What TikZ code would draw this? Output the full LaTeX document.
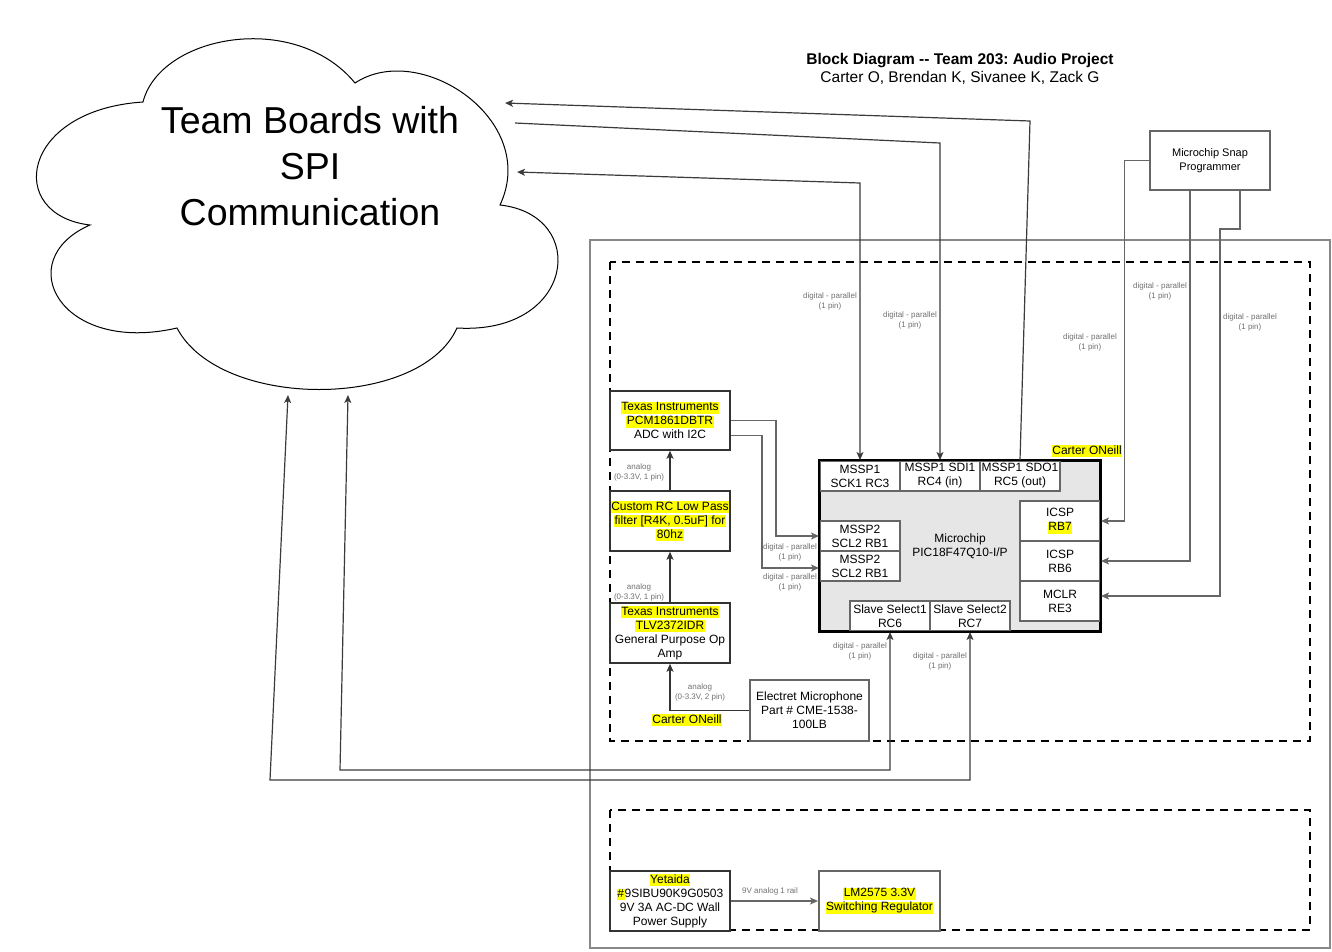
\documentclass[tikz,border=0pt]{standalone}
\usepackage{fontspec}
\setmainfont{Liberation Sans}
\usetikzlibrary{arrows.meta,calc}
\frenchspacing
\definecolor{dk}{HTML}{333333}
\definecolor{gr}{HTML}{666666}
\definecolor{lb}{HTML}{707070}
\definecolor{ct}{HTML}{888888}
\definecolor{chipfill}{HTML}{E6E6E6}
\definecolor{hly}{HTML}{FFFF00}
\newcommand{\fsz}[2]{\fontsize{#1}{#2}\selectfont}
\newcommand{\hlt}[1]{{\setlength{\fboxsep}{0.6pt}\colorbox{hly}{\rule[-2.2pt]{0pt}{9.4pt}#1}}}
\tikzset{
  blk/.style={draw=dk, line width=1.5pt, fill=white, align=center, inner sep=0pt, font=\fsz{12}{14}},
  gbox/.style={blk, draw=gr, line width=2pt},
  pin/.style={gbox, minimum width=80pt, minimum height=30pt},
  lbl/.style={align=center, font=\fsz{8}{10}, text=lb, inner sep=0pt},
  conn/.style={draw=gr, line width=1.5pt},
  dconn/.style={draw=dk, line width=1.5pt},
  cconn/.style={draw=dk!85!gr, line width=1.2pt},
  arr/.style={-{Stealth[length=8pt,width=7pt,inset=2pt]}},
  arr2/.style={{Stealth[length=8pt,width=7pt,inset=2pt]}-{Stealth[length=8pt,width=7pt,inset=2pt]}},
  dsh/.style={draw=black, line width=2pt, dash pattern=on 8pt off 6pt},
  cont/.style={draw=ct, line width=1.3pt},
  hlnote/.style={font=\fsz{12}{14}, inner sep=0pt}
}
\begin{document}
\begin{tikzpicture}[x=1pt,y=-1pt]
\useasboundingbox (0,0) rectangle (1332,951);
% containers
\draw[cont] (590,240) rectangle (1330,948);
\draw[dsh] (610,262) rectangle (1310,741);
\draw[dsh] (610,810) rectangle (1310,930);
% cloud
\draw[black, line width=1pt, fill=white] (143,102) .. controls (160,35) and (295,10) .. (355,83)
  .. controls (420,40) and (540,120) .. (500,205)
  .. controls (590,215) and (575,335) .. (457,328)
  .. controls (420,410) and (220,410) .. (177,328)
  .. controls (60,355) and (10,260) .. (90,225)
  .. controls (5,215) and (20,110) .. (143,102) -- cycle;
\node[font=\fsz{37.5}{46}, align=center, inner sep=0pt] (cloudtxt) at (310,166) {Team Boards with\\SPI\\Communication};
% title
\node[font=\bfseries\fsz{15.5}{18}, inner sep=0pt] (t1) at (960,61) {Block Diagram -{}- Team 203: Audio Project};
\node[font=\fsz{15.5}{18}, inner sep=0pt] (t2) at (960,78) {Carter O, Brendan K, Sivanee K, Zack G};
% left column
\node[blk, minimum width=120pt, minimum height=59pt] (adc) at (670,420.5) {\hlt{Texas Instruments}\\\hlt{PCM1861DBTR}\\ADC with I2C};
\node[blk, minimum width=120pt, minimum height=60pt] (filt) at (670,521) {\hlt{Custom RC Low Pass}\\\hlt{filter [R4K, 0.5uF] for}\\\hlt{80hz}};
\node[blk, minimum width=120pt, minimum height=60pt] (opamp) at (670,633) {\hlt{Texas Instruments}\\\hlt{TLV2372IDR}\\General Purpose Op\\Amp};
\node[gbox, minimum width=119pt, minimum height=61pt] (mic) at (809.5,710.5) {Electret Microphone\\Part \# CME-1538-\\100LB};
\node[hlnote] (co1) at (687,720) {\hlt{Carter ONeill}};
\node[hlnote] (co2) at (1087,451) {\hlt{Carter ONeill}};
% microcontroller
\node[draw=black, line width=2pt, fill=chipfill, minimum width=280pt, minimum height=170pt, align=center, inner sep=0pt, font=\fsz{12}{14}] (mcu) at (960,546) {Microchip\\PIC18F47Q10-I/P};
\node[pin] (sck) at (860,476) {MSSP1\\SCK1 RC3};
\node[pin] (sdi) at (940,476) {MSSP1 SDI1\\RC4 (in)};
\node[pin] (sdo) at (1020,476) {MSSP1 SDO1\\RC5 (out)};
\node[pin] (scla) at (860,536) {MSSP2\\SCL2 RB1};
\node[pin] (sclb) at (860,566) {MSSP2\\SCL2 RB1};
\node[pin, minimum height=40pt] (rb7) at (1060,521) {ICSP\\\hlt{RB7}};
\node[pin, minimum height=40pt] (rb6) at (1060,561) {ICSP\\RB6};
\node[pin, minimum height=40pt] (re3) at (1060,601) {MCLR\\RE3};
\node[pin] (ssa) at (890,616) {Slave Select1\\RC6};
\node[pin] (ssb) at (970,616) {Slave Select2\\RC7};
\draw[black, line width=2pt] (mcu.north west) rectangle (mcu.south east);
% programmer
\node[gbox, line width=1.5pt, font=\fsz{11}{14}, minimum width=120pt, minimum height=59pt] (snap) at (1210,160.5) {Microchip Snap\\Programmer};
% power
\node[blk, minimum width=120pt, minimum height=60pt] (psu) at (670,901) {\hlt{Yetaida}\\\hlt{\#}9SIBU90K9G0503\\9V 3A AC-DC Wall\\Power Supply};
\node[gbox, minimum width=121pt, minimum height=60pt] (reg) at (879.5,901) {\hlt{LM2575 3.3V}\\\hlt{Switching Regulator}};
% cloud connection points
\coordinate (cA) at (505,103);
\coordinate (cB) at (515,123);
\coordinate (cC) at (517,172);
\coordinate (cD) at (288,395);
\coordinate (cE) at (348,395);
\coordinate (kA) at (1030,121);
\coordinate (kB) at (940,143);
\coordinate (kC) at (860,183);
\coordinate (kD) at (270,780);
\coordinate (kE) at (340,770);
% SPI connectors
\draw[cconn, arr] (sdo.north) -- (kA) -- (cA);
\draw[cconn, arr] (cB) -- (kB) -- (sdi.north);
\draw[cconn, arr2] (cC) -- (kC) -- (sck.north);
\draw[cconn, arr2] (cE) -- (kE) -- (ssa.south |- kE) -- (ssa.south);
\draw[cconn, arr2] (cD) -- (kD) -- (ssb.south |- kD) -- (ssb.south);
% programmer connectors
\draw[conn, arr] (snap.west) -- ++(-25,0) |- (rb7.east);
\draw[conn, arr] ([xshift=-20pt]snap.south) |- (rb6.east);
\draw[conn, arr] ([xshift=30pt]snap.south) -- ++(0,38) -- ++(-20,0) |- ([yshift=5pt]re3.east);
% ADC to MSSP2
\draw[conn, arr] (adc.east) -- ++(45,0) |- (scla.west);
\draw[conn, arr] ([yshift=-15pt]adc.east) -- ++(31,0) |- ([yshift=-2pt]sclb.west);
% analog chain
\draw[dconn, arr] (filt.north) -- (adc.south);
\draw[dconn, arr] (opamp.north) -- (filt.south);
\draw[dconn, arr] (mic.west) -| (opamp.south);
\draw[conn, arr] (psu.east) -- (reg.west);
% labels
\node[lbl] (l1) at (639,472) {analog\\(0-3.3V, 1 pin)};
\node[lbl] (l2) at (639,592) {analog\\(0-3.3V, 1 pin)};
\node[lbl] (l3) at (700,692) {analog\\(0-3.3V, 2 pin)};
\node[lbl] (l4) at (790,552) {digital - parallel\\(1 pin)};
\node[lbl] (l5) at (790,582) {digital - parallel\\(1 pin)};
\node[lbl] (l6) at (830,301) {digital - parallel\\(1 pin)};
\node[lbl] (l7) at (910,320) {digital - parallel\\(1 pin)};
\node[lbl] (l8) at (1090,342) {digital - parallel\\(1 pin)};
\node[lbl] (l9) at (1160,291) {digital - parallel\\(1 pin)};
\node[lbl] (l10) at (1250,322) {digital - parallel\\(1 pin)};
\node[lbl] (l11) at (860,651) {digital - parallel\\(1 pin)};
\node[lbl] (l12) at (940,661) {digital - parallel\\(1 pin)};
\node[lbl] (l13) at (770,891) {9V analog 1 rail};
\end{tikzpicture}
\end{document}
